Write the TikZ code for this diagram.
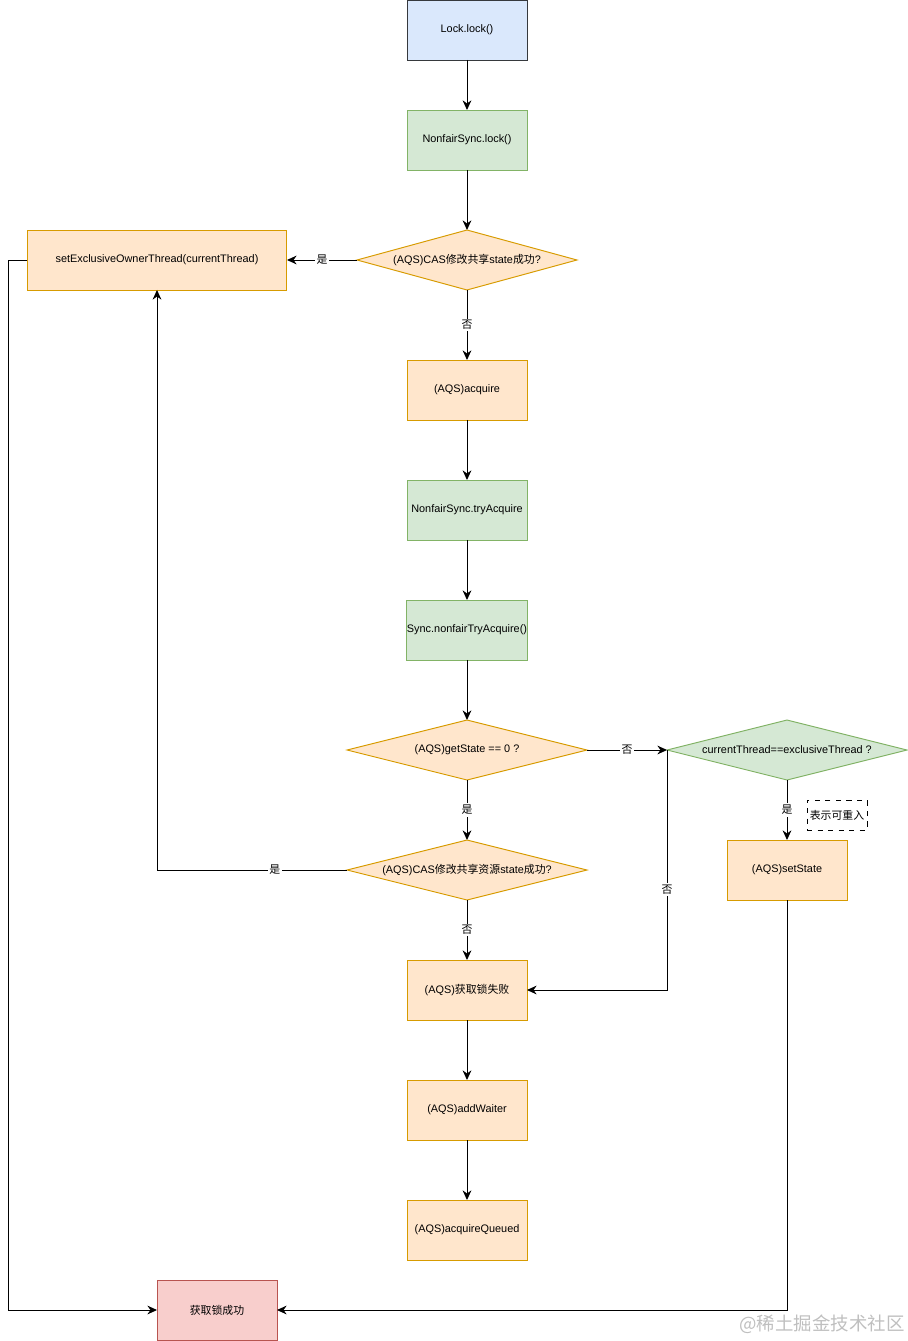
\documentclass[tikz,border=0pt]{standalone}
\usepackage{fontspec}
\setmainfont{Liberation Sans}
\newfontfamily\cjk{Noto Sans CJK SC}
\usetikzlibrary{shapes.geometric, arrows.meta}
\definecolor{blueFill}{HTML}{DAE8FC}
\definecolor{blueLine}{HTML}{36393D}
\definecolor{greenFill}{HTML}{D5E8D4}
\definecolor{greenLine}{HTML}{82B366}
\definecolor{orangeFill}{HTML}{FFE6CC}
\definecolor{orangeLine}{HTML}{D79B00}
\definecolor{redFill}{HTML}{F8CECC}
\definecolor{redLine}{HTML}{B85450}
\tikzset{
    box/.style={draw, rectangle, minimum width=2.4cm, minimum height=1.2cm, inner sep=0pt},
    bluebox/.style={box, fill=blueFill, draw=blueLine},
    greenbox/.style={box, fill=greenFill, draw=greenLine},
    orangebox/.style={box, fill=orangeFill, draw=orangeLine},
    redbox/.style={box, fill=redFill, draw=redLine},
    decision/.style={draw, diamond, aspect=4, inner sep=0pt, minimum height=1.2cm},
    lbl/.style={fill=white, inner sep=1pt, font=\fontsize{6.2}{8}\selectfont\cjk},
}
\begin{document}
\begin{tikzpicture}[x=0.02cm, y=-0.02cm, font=\fontsize{6.2}{8}\selectfont, every node/.style={outer sep=0pt}, line width=0.55pt, line join=miter, >={Stealth[length=5.5pt, width=5pt, inset=1.8pt]}]
    \useasboundingbox (0, 0) rectangle (908, 1341);
    \node[bluebox] (lock) at (467, 30) {Lock.lock()};
    \node[greenbox] (nonfairLock) at (467, 140) {NonfairSync.lock()};
    \node[decision, fill=orangeFill, draw=orangeLine, minimum width=4.4cm] (casOne) at (467, 260) {(AQS)CAS{\cjk 修改共享}state{\cjk 成功}?};
    \node[orangebox, minimum width=5.2cm] (setOwner) at (157, 260) {setExclusiveOwnerThread(currentThread)};
    \node[orangebox] (acquire) at (467, 390) {(AQS)acquire};
    \node[greenbox] (tryAcquire) at (467, 510) {NonfairSync.tryAcquire};
    \node[greenbox] (nonfairTry) at (467, 630) {Sync.nonfairTryAcquire()};
    \node[decision, fill=orangeFill, draw=orangeLine, minimum width=4.8cm] (getState) at (467, 750) {(AQS)getState == 0 ?};
    \node[decision, fill=greenFill, draw=greenLine, minimum width=4.8cm] (sameThread) at (787, 750) {currentThread==exclusiveThread ?};
    \node[draw, dashed, line width=0.4pt, minimum width=1.2cm, minimum height=0.6cm, inner sep=0pt] (reentrant) at (837, 815) {\cjk 表示可重入};
    \node[orangebox] (setState) at (787, 870) {(AQS)setState};
    \node[decision, fill=orangeFill, draw=orangeLine, minimum width=4.8cm] (casTwo) at (467, 870) {(AQS)CAS{\cjk 修改共享资源}state{\cjk 成功}?};
    \node[orangebox] (fail) at (467, 990) {(AQS){\cjk 获取锁失败}};
    \node[orangebox] (addWaiter) at (467, 1110) {(AQS)addWaiter};
    \node[orangebox] (queued) at (467, 1230) {(AQS)acquireQueued};
    \node[redbox] (success) at (217, 1310) {\cjk 获取锁成功};
    \node[text=black!25, font=\fontsize{10.5}{12}\selectfont\cjk] (mark) at (822, 1324) {@稀土掘金技术社区};

    \draw[->] (lock) -- (nonfairLock);
    \draw[->] (nonfairLock) -- (casOne);
    \draw[->] (casOne) -- node[lbl] {是} (setOwner);
    \draw[->] (casOne) -- node[lbl] {否} (acquire);
    \draw[->] (acquire) -- (tryAcquire);
    \draw[->] (tryAcquire) -- (nonfairTry);
    \draw[->] (nonfairTry) -- (getState);
    \draw[->] (getState) -- node[lbl] {否} (sameThread);
    \draw[->] (getState) -- node[lbl] {是} (casTwo);
    \draw[->] (casTwo.west) -| node[lbl, pos=0.19] {是} (setOwner.south);
    \draw[->] (casTwo) -- node[lbl] {否} (fail);
    \draw[->] (sameThread.west) |- node[lbl, pos=0.29] {否} (fail.east);
    \draw[->] (sameThread) -- node[lbl] {是} (setState);
    \draw[->] (setState.south) |- (success.east);
    \draw[->] (setOwner.west) -- ++(-19, 0) |- (success.west);
    \draw[->] (fail) -- (addWaiter);
    \draw[->] (addWaiter) -- (queued);
\end{tikzpicture}
\end{document}
